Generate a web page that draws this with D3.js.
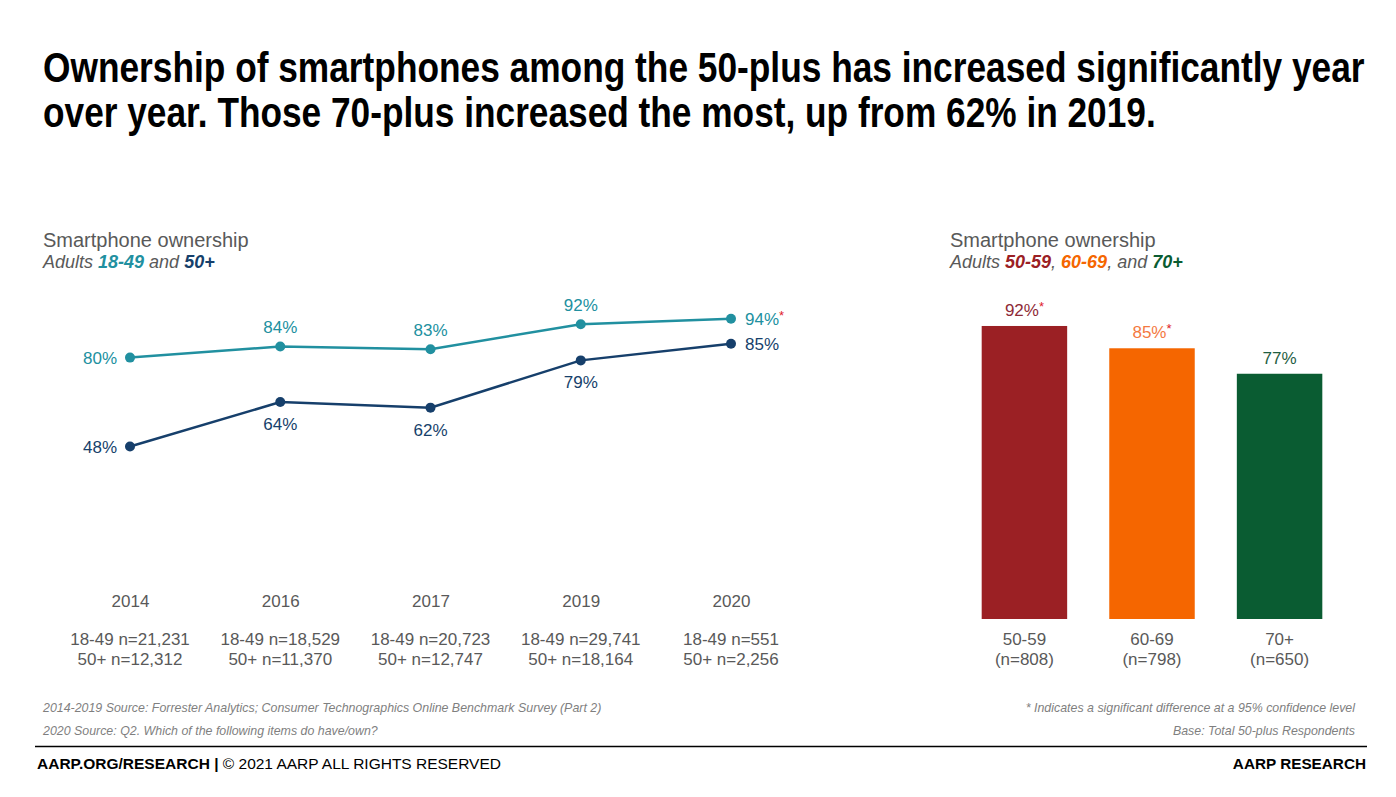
<!DOCTYPE html>
<html><head><meta charset="utf-8">
<script src="https://cdn.jsdelivr.net/npm/d3@7"></script>
<style>body{margin:0;background:#fff}svg{display:block;font-family:"Liberation Sans",Arial,sans-serif}</style>
</head><body><svg id="c" width="1396" height="797"></svg>
<script>
const years = ["2014","2016","2017","2019","2020"];
const young = [80,84,83,92,94];
const older = [48,64,62,79,85];
const youngSig = [false,false,false,false,true];
const nYoung = ["18-49 n=21,231","18-49 n=18,529","18-49 n=20,723","18-49 n=29,741","18-49 n=551"];
const nOlder = ["50+ n=12,312","50+ n=11,370","50+ n=12,747","50+ n=18,164","50+ n=2,256"];
const groups = ["50-59","60-69","70+"];
const groupN = ["(n=808)","(n=798)","(n=650)"];
const groupVals = [92,85,77];
const groupSig = [true,true,false];

const svg = d3.select("#c");
const gray = "#595959";
const teal = "#2190A0", navy = "#163F6B";
const barCols = ["#9B2024","#F56600","#0A5C32"];
const barLabelCols = ["#8E2A37","#F4793F","#1F5E43"];
const FS = 17;

// Title (condensed via horizontal scaling)
function titleLine(txt, yb, w){
  const g = svg.append("g");
  const tx = g.append("text").attr("x",0).attr("y",0).attr("font-weight","bold").attr("font-size",42).attr("fill","#000").text(txt);
  const nat = tx.node().getComputedTextLength();
  g.attr("transform",`translate(43,${yb}) scale(${w/nat},1)`);
}
titleLine("Ownership of smartphones among the 50-plus has increased significantly year",82,1322);
titleLine("over year. Those 70-plus increased the most, up from 62% in 2019.",127,1113);

// Subtitles
function subtitle(x, parts){
  svg.append("text").attr("x",x).attr("y",247).attr("font-size",20).attr("fill",gray).text("Smartphone ownership");
  const s = svg.append("text").attr("x",x).attr("y",268).attr("font-size",18).attr("font-style","italic").attr("fill",gray);
  parts.forEach(p=>s.append("tspan").attr("fill",p[1]||gray).attr("font-weight",p[1]?"bold":null).text(p[0]));
}
subtitle(43,[["Adults "],["18-49",teal],[" and "],["50+",navy]]);
subtitle(950,[["Adults "],["50-59","#9B2024"],[", "],["60-69","#F56600"],[", and "],["70+","#0A5C32"]]);

// Line chart
const x = d3.scalePoint().domain(years).range([130,731]);
const y = d3.scaleLinear().domain([0,100]).range([580,302]);
const line = d3.line().x((d,i)=>x(years[i])).y(d=>y(d));
[[young,teal],[older,navy]].forEach(([vals,col])=>{
  svg.append("path").attr("d",line(vals)).attr("fill","none").attr("stroke",col).attr("stroke-width",2.5);
  svg.selectAll(null).data(vals).enter().append("circle")
    .attr("cx",(d,i)=>x(years[i])).attr("cy",d=>y(d)).attr("r",5).attr("fill",col);
});
young.forEach((v,i)=>{
  const cx=x(years[i]), cy=y(v);
  let tx=cx, ty=cy-13, anchor="middle";
  if(i===0){tx=cx-13;ty=cy+6;anchor="end";}
  if(i===4){tx=cx+14;ty=cy+6;anchor="start";}
  const tt=svg.append("text").attr("x",tx).attr("y",ty).attr("text-anchor",anchor).attr("font-size",FS).attr("fill",teal).text(v+"%");
  if(youngSig[i]) tt.append("tspan").attr("fill","#E0202A").attr("font-size",13).attr("dy",-5).text("*");
});
older.forEach((v,i)=>{
  const cx=x(years[i]), cy=y(v);
  let tx=cx, ty=cy+28, anchor="middle";
  if(i===0){tx=cx-13;ty=cy+6;anchor="end";}
  if(i===4){tx=cx+14;ty=cy+6;anchor="start";}
  svg.append("text").attr("x",tx).attr("y",ty).attr("text-anchor",anchor).attr("font-size",FS).attr("fill",navy).text(v+"%");
});
const xa = svg.append("g").attr("transform","translate(0,607)").call(d3.axisBottom(x).tickSize(0).tickPadding(0));
xa.select(".domain").remove();
xa.selectAll("text").attr("font-size",FS).attr("fill",gray).attr("font-family","Liberation Sans, Arial, sans-serif").attr("dy","0");
years.forEach((yr,i)=>{
  svg.append("text").attr("x",x(yr)).attr("y",645).attr("text-anchor","middle").attr("font-size",FS).attr("fill",gray).text(nYoung[i]);
  svg.append("text").attr("x",x(yr)).attr("y",665).attr("text-anchor","middle").attr("font-size",FS).attr("fill",gray).text(nOlder[i]);
});

// Bar chart
const bx = d3.scaleBand().domain(groups).range([960,1344]).paddingInner(0.33).paddingOuter(0.17);
const by = d3.scaleLinear().domain([0,100]).range([619,300.5]);
svg.selectAll(null).data(groupVals).enter().append("rect")
  .attr("x",(d,i)=>bx(groups[i])).attr("width",bx.bandwidth())
  .attr("y",d=>by(d)).attr("height",d=>by(0)-by(d)).attr("fill",(d,i)=>barCols[i]);
groupVals.forEach((v,i)=>{
  const cx=bx(groups[i])+bx.bandwidth()/2;
  const tt=svg.append("text").attr("x",cx).attr("y",by(v)-10).attr("text-anchor","middle").attr("font-size",FS).attr("fill",barLabelCols[i]).text(v+"%");
  if(groupSig[i]) tt.append("tspan").attr("fill","#E0202A").attr("font-size",13).attr("dy",-5).text("*");
  svg.append("text").attr("x",cx).attr("y",645).attr("text-anchor","middle").attr("font-size",FS).attr("fill",gray).text(groups[i]);
  svg.append("text").attr("x",cx).attr("y",665).attr("text-anchor","middle").attr("font-size",FS).attr("fill",gray).text(groupN[i]);
});

// Footnotes
const fn = svg.append("g").attr("font-size",12.4).attr("font-style","italic").attr("fill","#7F7F7F");
fn.append("text").attr("x",43).attr("y",712).text("2014-2019 Source: Forrester Analytics; Consumer Technographics Online Benchmark Survey (Part 2)");
fn.append("text").attr("x",43).attr("y",735).text("2020 Source: Q2. Which of the following items do have/own?");
fn.append("text").attr("x",1355).attr("y",712).attr("text-anchor","end").text("* Indicates a significant difference at a 95% confidence level");
fn.append("text").attr("x",1355).attr("y",735).attr("text-anchor","end").text("Base: Total 50-plus Respondents");

svg.append("line").attr("x1",35).attr("x2",1367).attr("y1",746.5).attr("y2",746.5).attr("stroke","#000").attr("stroke-width",1.3);
svg.append("text").attr("x",37).attr("y",769).attr("font-size",15.5).attr("fill","#000")
  .call(s=>{s.append("tspan").attr("font-weight","bold").text("AARP.ORG/RESEARCH | ");s.append("tspan").text("© 2021 AARP ALL RIGHTS RESERVED");});
svg.append("text").attr("x",1366).attr("y",769).attr("text-anchor","end").attr("font-size",15.3).attr("font-weight","bold").attr("fill","#000").text("AARP RESEARCH");
</script></body></html>
